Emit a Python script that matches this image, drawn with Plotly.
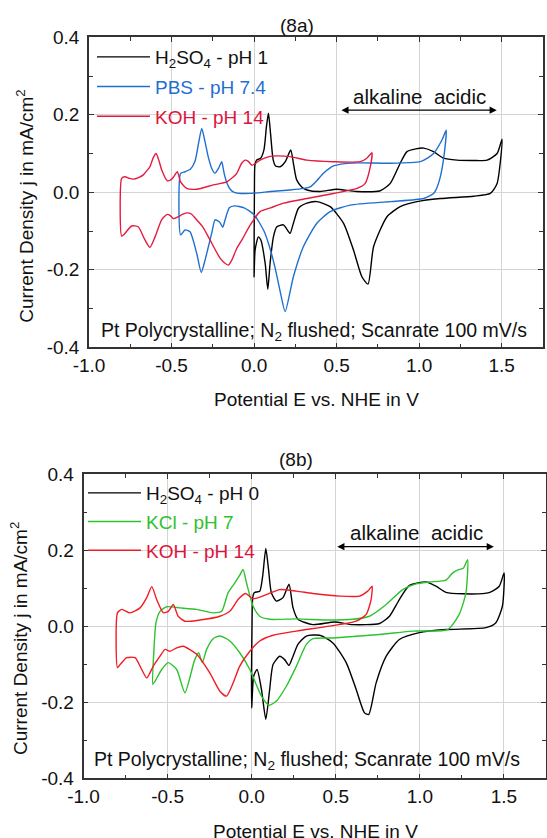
import plotly.graph_objects as go

# ---------------- data (potential V vs NHE, current density mA/cm2) ----------------
# (8a) H2SO4 pH 1
a_h2so4_v = [0.0, 0.002, 0.005, 0.015, 0.04, 0.06, 0.075, 0.087, 0.1, 0.115, 0.13, 0.158, 0.19, 0.222, 0.24,
             0.258, 0.29, 0.32, 0.40, 0.50, 0.62, 0.764, 0.825, 0.885, 0.926, 0.98, 1.027, 1.087, 1.148, 1.229,
             1.33, 1.411, 1.472, 1.502,
             1.472, 1.431, 1.33, 1.128, 0.987, 0.885, 0.805, 0.724, 0.69, 0.653, 0.602, 0.542, 0.461, 0.38,
             0.32, 0.269, 0.238, 0.218, 0.198, 0.178, 0.138, 0.117, 0.097, 0.083, 0.067, 0.041, 0.026, 0.006, 0.0]
a_h2so4_j = [-0.218, 0.0, 0.07, 0.083, 0.088, 0.11, 0.17, 0.204, 0.15, 0.085, 0.068, 0.066, 0.08, 0.109, 0.07,
             0.032, 0.013, 0.006, 0.002, 0.008, 0.002, 0.004, 0.023, 0.075, 0.105, 0.112, 0.114, 0.105, 0.088, 0.083,
             0.082, 0.083, 0.10, 0.137,
             0.023, -0.003, -0.01, -0.016, -0.024, -0.037, -0.063, -0.14, -0.237, -0.218, -0.149, -0.08, -0.037, -0.024,
             -0.028, -0.041, -0.08, -0.106, -0.095, -0.084, -0.089, -0.115, -0.183, -0.25, -0.183, -0.123, -0.115, -0.149, -0.218]

# (8a) PBS pH 7.4
a_pbs_v = [-0.445, -0.445, -0.418, -0.385, -0.358, -0.335, -0.317, -0.297, -0.277, -0.255, -0.237, -0.215, -0.196,
           -0.182, -0.166, -0.145, -0.12, -0.08, 0.0, 0.1, 0.218, 0.30, 0.34, 0.38, 0.42, 0.481, 0.55, 0.623, 0.825,
           1.007, 1.05, 1.087, 1.138, 1.164,
           1.152, 1.128, 1.1, 1.087, 1.027, 0.825, 0.582, 0.461, 0.38, 0.299, 0.238, 0.188, 0.16, 0.13, 0.10, 0.06,
           0.0, -0.06, -0.12, -0.15, -0.175, -0.19, -0.208, -0.236, -0.257, -0.297, -0.32, -0.348, -0.388, -0.418, -0.445]
a_pbs_j = [-0.11, 0.049, 0.053, 0.06, 0.08, 0.13, 0.165, 0.13, 0.09, 0.06, 0.049, 0.062, 0.079,
           0.05, 0.025, 0.008, 0.0, -0.003, -0.002, 0.002, 0.006, 0.01, 0.014, 0.03, 0.049, 0.068, 0.074, 0.076, 0.075,
           0.079, 0.088, 0.10, 0.135, 0.16,
           0.10, 0.04, 0.005, -0.003, -0.016, -0.024, -0.033, -0.05, -0.08, -0.14, -0.218, -0.308, -0.26, -0.2, -0.15, -0.1,
           -0.058, -0.04, -0.035, -0.04, -0.07, -0.09, -0.077, -0.071, -0.106, -0.175, -0.207, -0.157, -0.102, -0.097, -0.11]

# (8a) KOH pH 14
a_koh_v = [-0.802, -0.802, -0.782, -0.755, -0.732, -0.7, -0.671, -0.645, -0.631, -0.61, -0.594, -0.575, -0.56, -0.526,
           -0.505, -0.489, -0.465, -0.445, -0.408, -0.348, -0.247, -0.166, -0.125, -0.105, -0.075, -0.055, -0.035,
           -0.014, 0.01, 0.036, 0.09, 0.138, 0.218, 0.32, 0.481, 0.643, 0.683, 0.714,
           0.704, 0.673, 0.623, 0.481, 0.32, 0.178, 0.1, 0.036, -0.024, -0.07, -0.105, -0.135, -0.156, -0.18, -0.206,
           -0.267, -0.31, -0.348, -0.38, -0.408, -0.435, -0.459, -0.489, -0.508, -0.526, -0.56, -0.6, -0.631, -0.661,
           -0.702, -0.742, -0.782, -0.802]
a_koh_j = [-0.113, 0.036, 0.04, 0.036, 0.034, 0.038, 0.045, 0.058, 0.066, 0.09, 0.10, 0.08, 0.058, 0.03,
           0.032, 0.039, 0.053, 0.027, 0.01, 0.008, 0.019, 0.027, 0.04, 0.049, 0.075, 0.083, 0.08,
           0.07, 0.075, 0.083, 0.092, 0.094, 0.092, 0.083, 0.079, 0.079, 0.088, 0.102,
           0.066, 0.023, 0.010, -0.003, -0.016, -0.028, -0.04, -0.05, -0.085, -0.12, -0.145, -0.175, -0.188, -0.182, -0.17,
           -0.123, -0.09, -0.071, -0.056, -0.053, -0.057, -0.063, -0.068, -0.06, -0.057, -0.071, -0.115, -0.142, -0.123,
           -0.089, -0.087, -0.106, -0.113]

# (8b) H2SO4 pH 0
b_h2so4_v = [0.0, 0.002, 0.006, 0.015, 0.048, 0.065, 0.084, 0.1, 0.117, 0.147, 0.186, 0.222, 0.246, 0.275, 0.364,
             0.493, 0.6, 0.76, 0.819, 0.878, 0.938, 1.037, 1.096, 1.155, 1.254, 1.412, 1.472, 1.501,
             1.491, 1.452, 1.393, 1.155, 0.997, 0.878, 0.8, 0.74, 0.696, 0.671, 0.621, 0.562, 0.483, 0.404, 0.325,
             0.275, 0.246, 0.222, 0.196, 0.167, 0.127, 0.107, 0.084, 0.058, 0.032, 0.012, 0.0]
b_h2so4_j = [-0.215, 0.0, 0.075, 0.088, 0.092, 0.13, 0.204, 0.15, 0.088, 0.066, 0.075, 0.11, 0.048, 0.018, 0.004,
             0.011, 0.004, 0.007, 0.026, 0.07, 0.107, 0.116, 0.105, 0.089, 0.085, 0.088, 0.105, 0.14,
             0.053, 0.009, -0.004, -0.009, -0.017, -0.035, -0.079, -0.149, -0.232, -0.228, -0.166, -0.096, -0.044, -0.024, -0.026,
             -0.048, -0.079, -0.103, -0.088, -0.079, -0.101, -0.166, -0.245, -0.166, -0.114, -0.131, -0.215]

# (8b) KCl pH 7
b_kcl_v = [-0.588, -0.581, -0.569, -0.545, -0.505, -0.426, -0.327, -0.229, -0.179, -0.14, -0.1, -0.07, -0.051, -0.031,
           0.008, 0.048, 0.107, 0.266, 0.463, 0.601, 0.70, 0.8, 0.898, 0.977, 1.056, 1.155, 1.195, 1.234, 1.258, 1.284,
           1.274, 1.234, 1.165, 0.957, 0.76, 0.483, 0.364, 0.325, 0.266, 0.206, 0.147, 0.103, 0.058, -0.011, -0.071,
           -0.13, -0.189, -0.229, -0.268, -0.294, -0.315, -0.34, -0.397, -0.446, -0.496, -0.535, -0.575, -0.588]
b_kcl_j = [-0.153, -0.061, 0.009, 0.039, 0.051, 0.048, 0.044, 0.035, 0.039, 0.088, 0.114, 0.135, 0.149, 0.114,
           0.053, 0.026, 0.018, 0.019, 0.016, 0.018, 0.026, 0.057, 0.096, 0.111, 0.116, 0.121, 0.14, 0.149, 0.152, 0.175,
           0.088, 0.031, -0.009, -0.013, -0.022, -0.031, -0.033, -0.048, -0.105, -0.158, -0.197, -0.208, -0.184, -0.114, -0.07,
           -0.039, -0.026, -0.033, -0.061, -0.096, -0.07, -0.09, -0.175, -0.114, -0.096, -0.114, -0.145, -0.153]

# (8b) KOH pH 14
b_koh_v = [-0.798, -0.798, -0.772, -0.723, -0.664, -0.624, -0.594, -0.565, -0.525, -0.496, -0.466, -0.437, -0.397,
           -0.308, -0.189, -0.13, -0.081, -0.037, 0.008, 0.088, 0.167, 0.266, 0.364, 0.523, 0.641, 0.69, 0.716,
           0.71, 0.681, 0.621, 0.463, 0.266, 0.127, 0.048, -0.011, -0.071, -0.11, -0.15, -0.189, -0.249, -0.327,
           -0.407, -0.446, -0.486, -0.515, -0.545, -0.585, -0.624, -0.654, -0.693, -0.743, -0.782, -0.798]
b_koh_j = [-0.109, 0.035, 0.044, 0.035, 0.048, 0.075, 0.104, 0.07, 0.035, 0.039, 0.057, 0.026, 0.013,
           0.016, 0.026, 0.039, 0.07, 0.086, 0.072, 0.083, 0.096, 0.092, 0.086, 0.079, 0.079, 0.092, 0.105,
           0.07, 0.031, 0.013, 0.0, -0.013, -0.024, -0.039, -0.066, -0.105, -0.149, -0.184, -0.171, -0.123, -0.074,
           -0.053, -0.057, -0.066, -0.061, -0.079, -0.105, -0.136, -0.114, -0.083, -0.083, -0.101, -0.109]

x_tick_vals = [-1.0, -0.5, 0.0, 0.5, 1.0, 1.5]
x_tick_text = ["-1.0", "-0.5", "0.0", "0.5", "1.0", "1.5"]
y_tick_vals = [-0.4, -0.2, 0.0, 0.2, 0.4]
y_tick_text = ["-0.4", "-0.2", "0.0", "0.2", "0.4"]

# arrow annotation ("alkaline  acidic") in data units: [x_start, x_end, y]
arrow_a = [0.52, 1.47, 0.212]
arrow_b = [0.50, 1.44, 0.209]
label_a = [1.0, 0.248]
label_b = [0.978, 0.246]

# ---------------- styling ----------------
W, H = 547, 838
FONT = "Liberation Sans, Arial, sans-serif"
BLACK = "#000000"
BLUE = "#1f6fd1"
RED_A = "#e31b3f"
RED_B = "#f21c24"
GREEN = "#2ec22e"
RED_TXT = "#dc143c"


def px(x):
    return x / W


def py(y):
    return 1 - y / H


fig = go.Figure()


def add(v, j, name, color, xa, ya, leg, grp):
    fig.add_trace(go.Scatter(
        x=v, y=j, mode="lines", name=name, xaxis=xa, yaxis=ya, legend=leg, legendgroup=grp,
        line=dict(color=color, width=1.4, shape="spline", smoothing=0.6),
        hoverinfo="skip"))


add(a_h2so4_v, a_h2so4_j, "H<sub>2</sub>SO<sub>4</sub> - pH 1", BLACK, "x", "y", "legend", "a1")
add(a_pbs_v, a_pbs_j, "<span style='color:%s'>PBS - pH 7.4</span>" % BLUE, BLUE, "x", "y", "legend", "a2")
add(a_koh_v, a_koh_j, "<span style='color:%s'>KOH - pH 14</span>" % RED_TXT, RED_A, "x", "y", "legend", "a3")
add(b_h2so4_v, b_h2so4_j, "H<sub>2</sub>SO<sub>4</sub> - pH 0", BLACK, "x2", "y2", "legend2", "b1")
add(b_kcl_v, b_kcl_j, "<span style='color:%s'>KCl - pH 7</span>" % GREEN, GREEN, "x2", "y2", "legend2", "b2")
add(b_koh_v, b_koh_j, "<span style='color:%s'>KOH - pH 14</span>" % RED_TXT, RED_B, "x2", "y2", "legend2", "b3")

axis_common = dict(
    showline=True, linecolor="#333333", linewidth=1.5, mirror="ticks",
    ticks="inside", ticklen=5, tickwidth=1.2, tickcolor="#333333",
    showgrid=True, gridcolor="#d4d4d4", gridwidth=1.3, zeroline=False, automargin=False,
    tickfont=dict(family=FONT, size=19, color="#111111"),
)
minor_x = dict(dtick=0.25, tick0=0, ticks="inside", ticklen=4, tickcolor="#333333", showgrid=False)
minor_y = dict(dtick=0.1, tick0=0, ticks="inside", ticklen=4, tickcolor="#333333", showgrid=False)

fig.update_layout(
    width=W, height=H, margin=dict(l=0, r=0, t=0, b=0), autosize=False,
    paper_bgcolor="white", plot_bgcolor="white",
    font=dict(family=FONT, size=19, color="#111111"),
    xaxis=dict(domain=[px(89), px(543)], anchor="y", range=[-1.0, 1.75],
               tickvals=x_tick_vals, ticktext=x_tick_text, minor=minor_x, **axis_common),
    yaxis=dict(domain=[py(347.3), py(37.3)], anchor="x", range=[-0.4, 0.4],
               tickvals=y_tick_vals, ticktext=y_tick_text, ticklabelstandoff=4, minor=minor_y, **axis_common),
    xaxis2=dict(domain=[px(83.5), px(546)], anchor="y2", range=[-1.0, 1.75],
                tickvals=x_tick_vals, ticktext=x_tick_text, minor=minor_x, **axis_common),
    yaxis2=dict(domain=[py(778.3), py(474)], anchor="x2", range=[-0.4, 0.4],
                tickvals=y_tick_vals, ticktext=y_tick_text, ticklabelstandoff=4, minor=minor_y, **axis_common),
    legend=dict(x=px(92), y=py(38), xanchor="left", yanchor="top", bgcolor="rgba(0,0,0,0)",
                borderwidth=0, itemwidth=53, traceorder="grouped", tracegroupgap=2,
                font=dict(family=FONT, size=19, color="#111111")),
    legend2=dict(x=px(83), y=py(474), xanchor="left", yanchor="top", bgcolor="rgba(0,0,0,0)",
                 borderwidth=0, itemwidth=53, traceorder="grouped", tracegroupgap=1,
                 font=dict(family=FONT, size=19, color="#111111")),
    showlegend=True,
)

ann = []


def paper_text(text, x, y, size=19, angle=0, xanchor="center"):
    ann.append(dict(text=text, x=px(x), y=py(y), xref="paper", yref="paper", showarrow=False,
                    xanchor=xanchor, yanchor="middle", textangle=angle, font=dict(size=size)))


# panel titles
paper_text("(8a)", 297, 26)
paper_text("(8b)", 296, 460)
# axis titles
paper_text("Potential E vs. NHE in V", 316, 400)
paper_text("Potential E vs. NHE in V", 315, 831)
paper_text("Current Density j in mA/cm<sup>2</sup>", 25, 206.7, angle=-90)
paper_text("Current Density j in mA/cm<sup>2</sup>", 19, 639, angle=-90)
# conditions text
paper_text("Pt Polycrystalline; N<sub>2</sub> flushed; Scanrate 100 mV/s", 99, 331, size=19.5, xanchor="left")
paper_text("Pt Polycrystalline; N<sub>2</sub> flushed; Scanrate 100 mV/s", 92, 760, size=19.5, xanchor="left")

# alkaline / acidic arrows
for (arr, lab, xr, yr) in [(arrow_a, label_a, "x", "y"), (arrow_b, label_b, "x2", "y2")]:
    ann.append(dict(text="", x=arr[1], y=arr[2], ax=arr[0], ay=arr[2], xref=xr, yref=yr,
                    axref=xr, ayref=yr, showarrow=True, arrowside="end+start", arrowhead=2,
                    startarrowhead=2, arrowsize=1.1, startarrowsize=1.1, arrowwidth=1.3, arrowcolor="#000000"))
    ann.append(dict(text="alkaline\u00a0\u00a0acidic", x=lab[0], y=lab[1], xref=xr, yref=yr,
                    xanchor="center", yanchor="middle", showarrow=False, font=dict(size=20.5)))

fig.update_layout(annotations=ann)

fig.write_html("out.html")
